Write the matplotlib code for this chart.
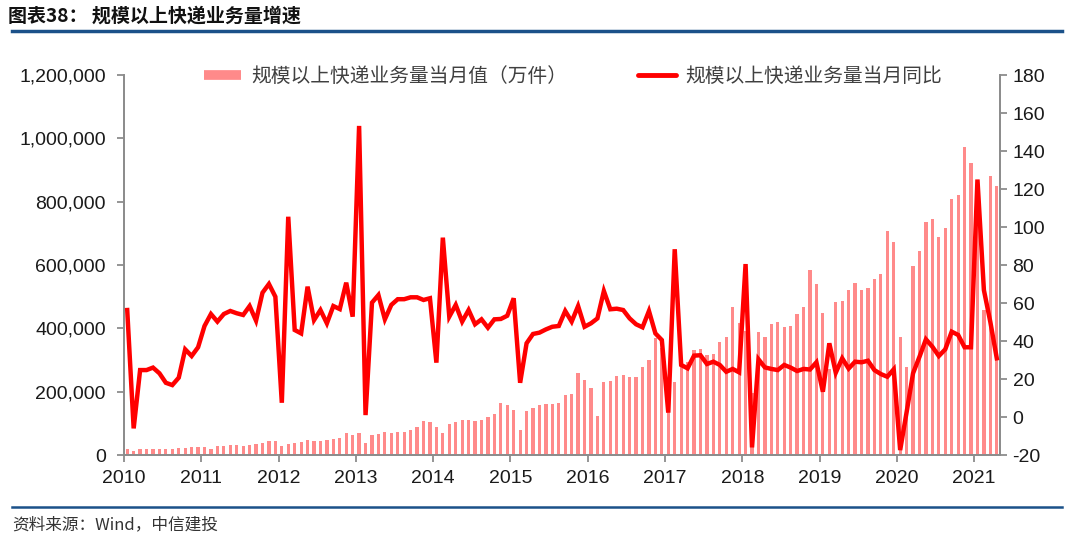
import matplotlib
matplotlib.use("Agg")
import matplotlib.pyplot as plt
from matplotlib.lines import Line2D
from matplotlib.ticker import FuncFormatter, MultipleLocator
import numpy as np

plt.rcParams['font.family'] = ['Liberation Sans', 'Noto Sans CJK SC', 'DejaVu Sans']
plt.rcParams['axes.unicode_minus'] = False

# ---- data ----
years = ['2010', '2011', '2012', '2013', '2014', '2015', '2016', '2017',
         '2018', '2019', '2020', '2021']

# 规模以上快递业务量当月值（万件）, monthly Jan-2010 .. Apr-2021
vol_2010 = [18000, 12500, 18500, 19000, 19500, 19500, 19500, 20500, 22500, 23500, 25500, 26500]
vol_2011 = [26600, 19300, 27800, 29300, 30400, 30100, 30000, 32500, 33900, 38900, 43400, 43300]
vol_2012 = [30000, 36000, 39000, 41000, 47000, 43000, 45000, 46000, 50000, 55000, 68000, 64000]
vol_2013 = [70000, 38000, 64000, 67000, 72000, 70000, 72000, 74000, 80000, 88000, 108000, 104000]
vol_2014 = [87000, 70000, 98000, 104000, 109000, 110000, 107000, 111000, 119000, 130000, 163000, 159000]
vol_2015 = [141000, 80000, 138000, 150000, 158000, 162000, 161000, 165000, 188000, 193000, 258000, 237000]
vol_2016 = [211000, 122000, 232000, 234000, 250000, 253000, 246000, 246000, 279000, 300000, 371000, 338000]
vol_2017 = [216000, 231000, 297000, 294000, 331000, 336000, 316000, 320000, 357000, 372000, 466000, 418000]
vol_2018 = [392000, 195000, 390000, 372000, 415000, 419000, 404000, 407000, 445000, 468000, 583000, 539000]
vol_2019 = [447000, 272000, 483000, 487000, 520000, 542000, 521000, 527000, 556000, 573000, 708000, 672000]
vol_2020 = [373000, 278000, 596000, 645000, 736000, 745000, 690000, 718000, 808000, 820000, 973000, 922000]
vol_2021 = [840000, 458000, 880000, 850000]

# 规模以上快递业务量当月同比 (%)
yoy_2010 = [56.3, -6.0, 24.7, 24.7, 26.0, 23.0, 18.0, 16.8, 20.7, 35.6, 32.1, 36.7]
yoy_2011 = [47.9, 54.2, 50.2, 54.2, 55.8, 54.6, 53.7, 58.4, 50.7, 65.4, 70.0, 63.3]
yoy_2012 = [7.5, 105.4, 45.8, 44.0, 68.6, 51.0, 56.3, 49.3, 58.4, 56.8, 70.7, 52.8]
yoy_2013 = [153.2, 1.0, 60.2, 64.2, 51.4, 59.0, 62.0, 62.0, 63.0, 63.0, 61.6, 62.5]
yoy_2014 = [28.6, 94.4, 52.8, 59.0, 50.2, 56.3, 48.8, 51.4, 47.0, 51.4, 51.6, 53.3]
yoy_2015 = [62.5, 18.0, 38.8, 43.7, 44.4, 46.1, 47.5, 47.9, 55.8, 50.2, 58.4, 47.5]
yoy_2016 = [49.3, 51.9, 66.3, 56.7, 57.0, 56.3, 51.9, 48.8, 47.2, 55.8, 44.0, 40.5]
yoy_2017 = [2.3, 88.3, 27.4, 25.6, 32.3, 32.5, 27.9, 29.1, 27.4, 23.8, 25.3, 23.5]
yoy_2018 = [80.5, -16.0, 30.4, 26.1, 25.3, 24.7, 27.4, 26.0, 24.2, 25.3, 25.0, 28.8]
yoy_2019 = [13.3, 38.8, 23.3, 30.9, 25.5, 29.1, 28.8, 29.6, 24.7, 22.6, 21.2, 25.1]
yoy_2020 = [-17.4, 2.5, 23.0, 31.7, 40.9, 37.0, 32.1, 35.6, 44.9, 43.2, 36.7, 36.7]
yoy_2021 = [125.0, 66.8, 50.0, 30.9]

volume = (vol_2010 + vol_2011 + vol_2012 + vol_2013 + vol_2014 + vol_2015 +
          vol_2016 + vol_2017 + vol_2018 + vol_2019 + vol_2020 + vol_2021)
yoy = (yoy_2010 + yoy_2011 + yoy_2012 + yoy_2013 + yoy_2014 + yoy_2015 +
       yoy_2016 + yoy_2017 + yoy_2018 + yoy_2019 + yoy_2020 + yoy_2021)

label_bar = '规模以上快递业务量当月值（万件）'
label_line = '规模以上快递业务量当月同比'
title = '图表38： 规模以上快递业务量增速'
source = '资料来源：Wind，中信建投'

# ---- style ----
bar_color = '#FF8A8A'
line_color = '#FF0000'
axis_color = '#8C8C8C'
text_color = '#1A1A1A'
blue = '#1B5189'
cjk = ['Noto Sans CJK SC', 'DejaVu Sans']

W, H = 1080, 546
fig = plt.figure(figsize=(W / 100, H / 100), dpi=100)
ax = fig.add_axes([124 / W, 1 - 455 / H, (1000 - 124) / W, (455 - 75) / H])
ax2 = ax.twinx()

x = np.arange(len(volume))
ax.bar(x, volume, width=0.5, color=bar_color, zorder=1)
ax2.plot(x, yoy, color=line_color, lw=3.2, solid_joinstyle='miter', zorder=3)

ax.set_xlim(-0.5, len(volume) - 0.5)
ax.set_ylim(0, 1200000)
ax2.set_ylim(-20, 180)
ax.yaxis.set_major_locator(MultipleLocator(200000))
ax2.yaxis.set_major_locator(MultipleLocator(20))
ax.yaxis.set_major_formatter(FuncFormatter(lambda v, p: f'{int(v):,}'))

ticks = [12 * i - 0.5 for i in range(len(years))]
ax.set_xticks(ticks)
ax.set_xticklabels(years)

for a in (ax, ax2):
    a.spines['top'].set_visible(False)
    for s in ('left', 'right', 'bottom'):
        a.spines[s].set_color(axis_color)
        a.spines[s].set_linewidth(1.3)
    a.tick_params(colors=axis_color, labelcolor=text_color, labelsize=14,
                  length=5, width=1.3, direction='out')
ax.tick_params(axis='y', pad=8)
ax2.tick_params(axis='y', pad=4)
ax.tick_params(axis='x', pad=6)

handles = [Line2D([0], [0], color=bar_color, lw=7, solid_capstyle='butt'),
           Line2D([0], [0], color=line_color, lw=3.5, solid_capstyle='round')]
fig.legend(handles, [label_bar, label_line], loc='center',
           bbox_to_anchor=(573 / W, 1 - 76 / H), ncol=2, frameon=False,
           prop={'family': cjk, 'size': 14.2}, labelcolor='#404040',
           handlelength=1.9, handletextpad=0.5, columnspacing=3.6)

fig.text(8 / W, 1 - 16 / H, title, fontsize=13.7, fontweight='bold',
         family=cjk, color='#111111', va='center', ha='left')
fig.add_artist(Line2D([12 / W, 1062 / W], [1 - 31 / H, 1 - 31 / H],
                      color=blue, lw=2.5, transform=fig.transFigure))
fig.add_artist(Line2D([12 / W, 1062 / W], [1 - 507 / H, 1 - 507 / H],
                      color=blue, lw=1.8, transform=fig.transFigure))
fig.text(12 / W, 1 - 525 / H, source, fontsize=12, family=cjk,
         color='#333333', va='center', ha='left')

fig.savefig('out.png', dpi=100)
